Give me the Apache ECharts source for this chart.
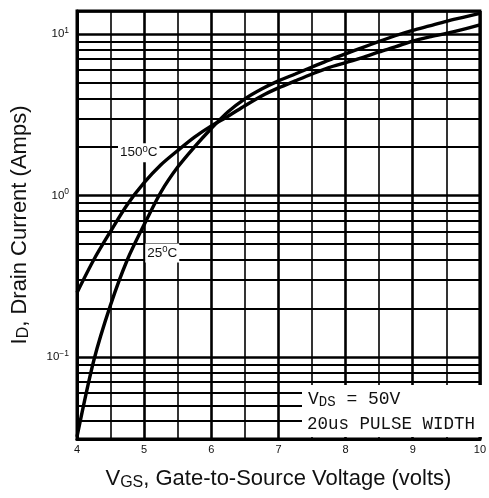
<!DOCTYPE html>
<html><head><meta charset="utf-8">
<script src="https://cdn.jsdelivr.net/npm/echarts@6/dist/echarts.min.js"></script>
<style>html,body{margin:0;padding:0;background:#fff}#c{width:489px;height:498px}</style>
</head><body><div id="c"></div>
<script>
// Gate-to-source voltage (V) sample points
const vgs = [4, 4.25, 4.5, 4.75, 5, 5.25, 5.5, 5.75, 6, 6.25, 6.5, 6.75, 7, 7.25, 7.5, 7.75, 8, 8.25, 8.5, 8.75, 9, 9.25, 9.5, 9.75, 10];
// Drain current (A) at 150 °C
const id150 = [0.25, 0.40, 0.60, 0.88, 1.2, 1.55, 1.9, 2.3, 2.7, 3.1, 3.6, 4.14, 4.64, 5.13, 5.66, 6.2, 6.65, 7.15, 7.75, 8.35, 9.05, 9.6, 10.1, 10.7, 11.4];
// Drain current (A) at 25 °C
const id25 = [0.032, 0.095, 0.21, 0.40, 0.66, 1.05, 1.5, 2.0, 2.6, 3.3, 3.97, 4.57, 5.13, 5.66, 6.25, 6.9, 7.55, 8.25, 9.0, 9.8, 10.55, 11.25, 12.0, 12.7, 13.45];
// X tick labels and minor vertical grid
const xTicks = [4, 5, 6, 7, 8, 9, 10];
const xHalfGrid = [4.5, 5.5, 6.5, 7.5, 8.5, 9.5];
// Y decade labels (exponents) and minor horizontal grid values
const yDecades = [-1, 0, 1];
const yMinorGrid = [0.04, 0.05, 0.06, 0.07, 0.08, 0.09, 0.2, 0.3, 0.4, 0.5, 0.6, 0.7, 0.8, 0.9, 2, 3, 4, 5, 6, 7, 8, 9];
const yMin = 0.031, yMax = 13.9;

const F = 'Liberation Sans, Arial, sans-serif';
const chart = echarts.init(document.getElementById('c'));
const minorLines = yMinorGrid.map(v => ({yAxis: v}))
  .concat(xHalfGrid.map(v => ({xAxis: v, lineStyle: {width: 1.6}})));

chart.setOption({
  animation: false,
  grid: {left: 77, top: 11, right: 1, bottom: 59, show: true, borderColor: '#000', borderWidth: 3, backgroundColor: '#fff'},
  xAxis: {
    type: 'value', min: 4, max: 10, interval: 1,
    axisLine: {show: true, lineStyle: {color: '#000', width: 3}},
    axisTick: {show: false},
    splitLine: {show: true, lineStyle: {color: '#000', width: 2.6}},
    axisLabel: {margin: 5, fontFamily: F, fontSize: 11, color: '#111',
      formatter: v => xTicks.indexOf(v) >= 0 ? String(v) : ''},
    name: 'V{sub|GS}, Gate-to-Source Voltage (volts)',
    nameLocation: 'middle', nameGap: 27,
    nameTextStyle: {fontFamily: F, fontSize: 22, color: '#111',
      rich: {sub: {fontSize: 16, fontFamily: F, color: '#111', padding: [9, 0, 0, 0]}}}
  },
  yAxis: {
    type: 'log', logBase: 10, min: yMin, max: yMax,
    axisLine: {show: true, lineStyle: {color: '#000', width: 3}},
    axisTick: {show: false},
    splitLine: {show: true, lineStyle: {color: '#000', width: 2.6}},
    axisLabel: {margin: 8, fontFamily: F, fontSize: 11.5, color: '#111',
      showMinLabel: false, showMaxLabel: false,
      formatter: v => {
        const e = Math.round(Math.log10(v));
        if (Math.abs(Math.log10(v) - e) > 1e-6 || yDecades.indexOf(e) < 0) return '';
        return '10{sup|' + (e < 0 ? '\u2212' + (-e) : e) + '}';
      },
      rich: {sup: {fontSize: 8.5, fontFamily: F, color: '#111', padding: [0, 0, 7, 0]}}},
    name: 'I{sub|D}, Drain Current (Amps)',
    nameLocation: 'middle', nameGap: 45, nameRotate: 90,
    nameTextStyle: {fontFamily: F, fontSize: 22, color: '#111',
      rich: {sub: {fontSize: 16, fontFamily: F, color: '#111', padding: [9, 0, 0, 0]}}}
  },
  series: [
    {
      name: '150C', type: 'line', smooth: 0.3, symbol: 'none',
      data: vgs.map((x, i) => [x, id150[i]]),
      lineStyle: {color: '#000', width: 3.4}, z: 5,
      markLine: {silent: true, symbol: 'none', label: {show: false},
        lineStyle: {color: '#000', width: 1.8, type: 'solid'}, data: minorLines, z: 1},
      markPoint: {symbol: 'rect', symbolSize: 1, itemStyle: {color: 'transparent'},
        data: [{coord: [4.92, 1.84], value: '150C'}],
        label: {show: true, position: 'inside', formatter: '150{sup|0}C', backgroundColor: '#fff', padding: [1, 2],
          fontFamily: F, fontSize: 13.5, color: '#111',
          rich: {sup: {fontSize: 9.5, fontFamily: F, color: '#111', padding: [0, 0, 7, 0]}}}}
    },
    {
      name: '25C', type: 'line', smooth: 0.3, symbol: 'none',
      data: vgs.map((x, i) => [x, id25[i]]),
      lineStyle: {color: '#000', width: 3.4}, z: 5,
      markPoint: {symbol: 'rect', symbolSize: 1, itemStyle: {color: 'transparent'},
        data: [{coord: [5.27, 0.44], value: '25C'}],
        label: {show: true, position: 'inside', formatter: '25{sup|0}C', backgroundColor: '#fff', padding: [1, 2],
          fontFamily: F, fontSize: 13.5, color: '#111',
          rich: {sup: {fontSize: 9.5, fontFamily: F, color: '#111', padding: [0, 0, 7, 0]}}}}
    }
  ],
  graphic: [
    {type: 'rect', left: 302, top: 385, z: 100, shape: {width: 186, height: 52}, style: {fill: '#fff'}},
    {type: 'text', left: 308, top: 390, z: 101, style: {
      text: 'V{sub|DS} = 50V', font: '18px "Liberation Mono", monospace', fill: '#111',
      rich: {sub: {font: '14px "Liberation Mono", monospace', fill: '#111', padding: [6, 0, 0, 0]}}}},
    {type: 'text', left: 307, top: 415, z: 101, style: {
      text: '20us PULSE WIDTH', font: '17.5px "Liberation Mono", monospace', fill: '#111'}}
  ]
});
</script></body></html>
